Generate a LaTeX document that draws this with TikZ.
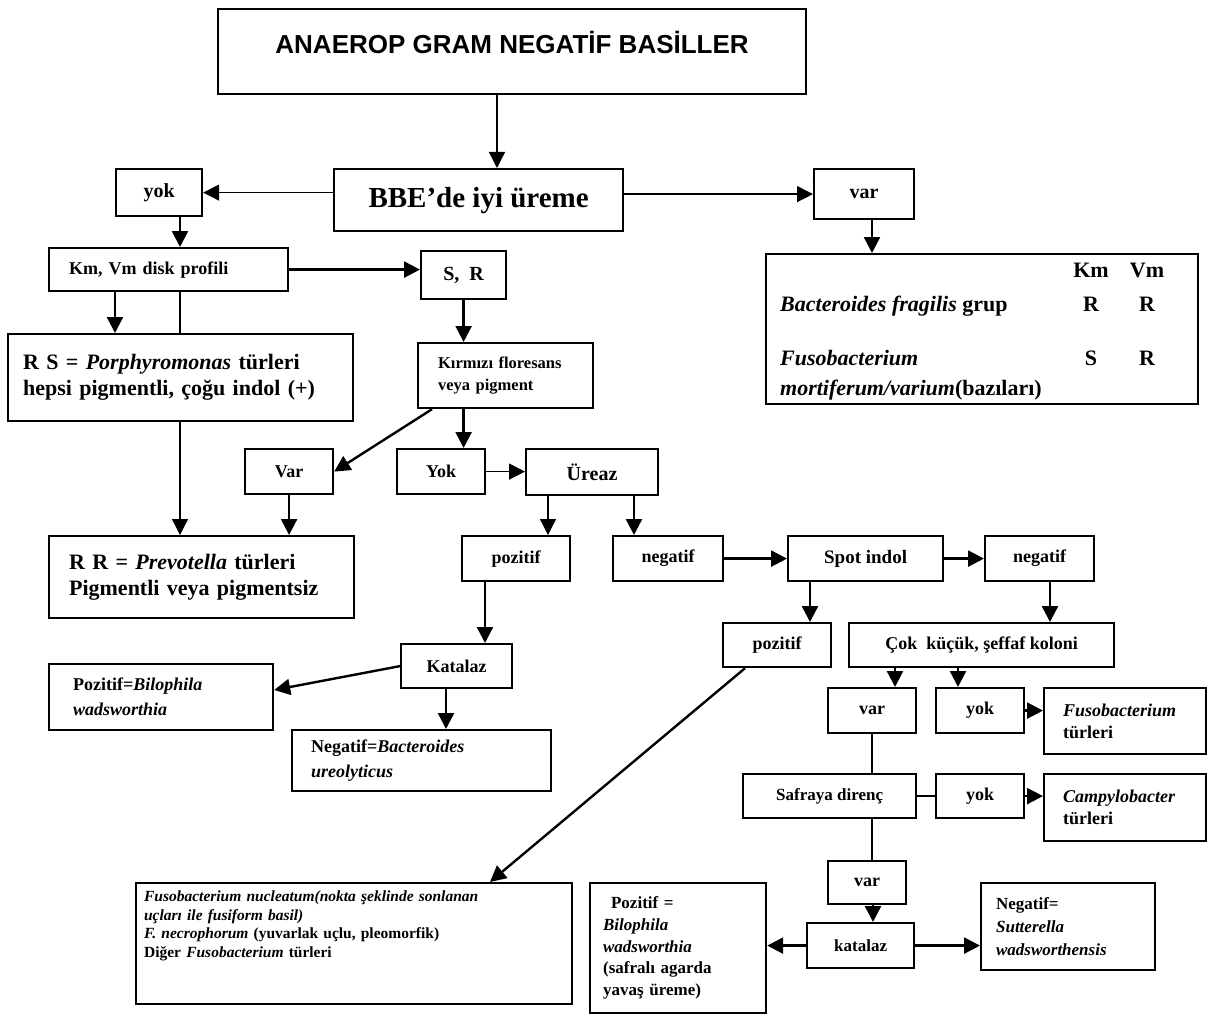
\documentclass[tikz,border=0pt]{standalone}
\usepackage{fontspec}
\setmainfont{Liberation Serif}
\newfontfamily\titlefont{Liberation Sans}
\usetikzlibrary{positioning, arrows.meta}

\begin{document}
\begin{tikzpicture}[
    x=1pt, y=-1pt,
    box/.style={draw, line width=2.2pt, fill=white, anchor=north west, inner sep=2pt, font=\bfseries},
    lbox/.style={box, align=left},
    txt/.style={inner sep=0pt, anchor=base west},
    fs/.style 2 args={font=\fontsize{#1}{#2}\selectfont\bfseries},
    arrow/.style={line width=2.4pt, -{Triangle[length=16pt, width=16pt]}},
    thinarrow/.style={line width=1.3pt, -{Triangle[length=16pt, width=16pt]}},
    link/.style={line width=1.8pt},
]

\fill[white] (0,0) rectangle (1211,1014);
\useasboundingbox (0,0) rectangle (1211,1014);

% Top
\node[box, minimum width=588pt, minimum height=85pt, text height=19pt, text depth=15pt,
      font=\titlefont\bfseries\fontsize{26}{30}\selectfont] (title) at (217,8) {ANAEROP GRAM NEGATİF BASİLLER};
\node[box, fs={29}{34}, minimum width=289pt, minimum height=62pt] (bbe) at (333,168) {BBE'de iyi üreme};
\node[box, fs={20}{24}, minimum width=86pt, minimum height=47pt] (yok1) at (115,168) {yok};
\node[box, fs={20}{24}, minimum width=100pt, minimum height=50pt] (var1) at (813,168) {var};

% Right box (Km, Vm)
\node[box, minimum width=432pt, minimum height=150pt] (bigbox) at (765,253) {};
\node[txt, fs={22}{26}, anchor=base] (kmhead) at (1091,277) {Km};
\node[txt, fs={22}{26}, anchor=base] (vmhead) at (1147,277) {Vm};
\node[txt, fs={22}{26}] (bfrag) at (780,311) {\textit{Bacteroides fragilis} grup};
\node[txt, fs={22}{26}, anchor=base] (bfragkm) at (1091,311) {R};
\node[txt, fs={22}{26}, anchor=base] (bfragvm) at (1147,311) {R};
\node[txt, fs={22}{26}] (fmort) at (780,365) {\textit{Fusobacterium}};
\node[txt, fs={22}{26}, anchor=base] (fmortkm) at (1091,365) {S};
\node[txt, fs={22}{26}, anchor=base] (fmortvm) at (1147,365) {R};
\node[txt, fs={22}{26}] (fmortb) at (780,395) {\textit{mortiferum/varium}(bazıları)};

% Left branch
\node[lbox, fs={18}{22}, minimum width=239pt, minimum height=43pt, inner xsep=20pt, text width=199pt] (kmbox) at (48,247) {Km, Vm disk profili};
\node[box, fs={20}{24}, minimum width=85pt, minimum height=48pt] (srbox) at (420,250) {S,\ \ R};
\node[lbox, fs={22}{26}, minimum width=345pt, minimum height=87pt, inner xsep=15pt, text width=315pt] (rsbox) at (7,333) {R S = \textit{Porphyromonas} türleri\\ hepsi pigmentli, çoğu indol (+)};
\node[lbox, fs={16.5}{22}, minimum width=175pt, minimum height=65pt, inner xsep=20pt, text width=135pt] (kirmizi) at (417,342) {Kırmızı floresans\\ veya pigment};
\node[box, fs={18}{22}, minimum width=88pt, minimum height=45pt] (var2) at (244,448) {Var};
\node[box, fs={18}{22}, minimum width=88pt, minimum height=45pt] (yok2) at (396,448) {Yok};
\node[box, fs={20}{24}, minimum width=132pt, minimum height=46pt] (ureaz) at (525,448) {Üreaz};
\node[lbox, fs={22}{26}, minimum width=305pt, minimum height=82pt, inner xsep=20pt, text width=265pt] (rrbox) at (48,535) {R R = \textit{Prevotella} türleri\\ Pigmentli veya pigmentsiz};

% Middle
\node[box, fs={18}{22}, minimum width=108pt, minimum height=45pt] (poz1) at (461,535) {pozitif};
\node[box, fs={18}{22}, minimum width=110pt, minimum height=45pt] (neg1) at (612,535) {negatif};
\node[box, fs={19}{23}, minimum width=155pt, minimum height=45pt] (spot) at (787,535) {Spot indol};
\node[box, fs={18}{22}, minimum width=109pt, minimum height=45pt] (neg2) at (984,535) {negatif};
\node[box, fs={18}{22}, minimum width=108pt, minimum height=44pt] (poz2) at (722,622) {pozitif};
\node[box, fs={18}{22}, minimum width=265pt, minimum height=44pt] (cok) at (848,622) {Çok\ \ küçük, şeffaf koloni};
\node[box, fs={18}{22}, minimum width=111pt, minimum height=44pt] (kat1) at (400,643) {Katalaz};
\node[lbox, fs={18}{25}, minimum width=224pt, minimum height=66pt, inner xsep=24pt, text width=176pt] (bilo1) at (48,663) {Pozitif=\textit{Bilophila}\\ \textit{wadsworthia}};
\node[lbox, fs={18}{25}, minimum width=259pt, minimum height=61pt, inner xsep=19pt, text width=221pt] (negbact) at (291,729) {Negatif=\textit{Bacteroides}\\ \textit{ureolyticus}};

% Lower right
\node[box, fs={18}{22}, minimum width=88pt, minimum height=45pt] (var3) at (827,687) {var};
\node[box, fs={18}{22}, minimum width=88pt, minimum height=45pt] (yok3) at (935,687) {yok};
\node[lbox, fs={18}{22}, minimum width=162pt, minimum height=66pt, inner xsep=19pt, text width=124pt] (fusot) at (1043,687) {\textit{Fusobacterium}\\ türleri};
\node[box, fs={17}{21}, minimum width=173pt, minimum height=44pt] (safra) at (742,773) {Safraya direnç};
\node[box, fs={18}{22}, minimum width=88pt, minimum height=44pt] (yok4) at (935,773) {yok};
\node[lbox, fs={18}{22}, minimum width=162pt, minimum height=67pt, inner xsep=19pt, text width=124pt] (campy) at (1043,773) {\textit{Campylobacter}\\ türleri};
\node[box, fs={18}{22}, minimum width=78pt, minimum height=43pt] (var4) at (827,860) {var};
\node[box, fs={17}{21}, minimum width=107pt, minimum height=45pt] (kat2) at (806,922) {katalaz};
\node[lbox, fs={17}{21.7}, minimum width=176pt, minimum height=130pt, inner xsep=13pt, text width=150pt] (bilo2) at (589,882) {\hspace*{8pt}Pozitif =\\ \textit{Bilophila}\\ \textit{wadsworthia}\\ (safralı agarda\\ yavaş üreme)};
\node[lbox, fs={17}{23}, minimum width=174pt, minimum height=87pt, inner xsep=15pt, text width=144pt] (sutt) at (980,882) {Negatif=\\ \textit{Sutterella}\\ \textit{wadsworthensis}};
\node[lbox, fs={15.5}{18.5}, minimum width=436pt, minimum height=121pt, inner xsep=8pt, text width=420pt] (fusonuc) at (135,882) {\textit{Fusobacterium nucleatum(nokta şeklinde sonlanan}\\ \textit{uçları ile fusiform basil)}\\ \textit{F. necrophorum} (yuvarlak uçlu, pleomorfik)\\ Diğer \textit{Fusobacterium} türleri\\[20pt]\mbox{}};

% Connectors
\draw[thinarrow] (title.south -| 497,0) -- (bbe.north -| 497,0);
\draw[thinarrow] (bbe.west |- yok1.east) -- (yok1.east);
\draw[thinarrow] (bbe.east |- var1.west) -- (var1.west);
\draw[arrow] (yok1.south -| 180,0) -- (kmbox.north -| 180,0);
\draw[arrow] (var1.south -| 872,0) -- (bigbox.north -| 872,0);
\draw[arrow] (kmbox.east) -- (srbox.west |- kmbox.east);
\draw[arrow] (kmbox.south -| 115,0) -- (rsbox.north -| 115,0);
\draw[link] (kmbox.south -| 180,0) -- (rsbox.north -| 180,0);
\draw[thinarrow] (rsbox.south -| 180,0) -- (rrbox.north -| 180,0);
\draw[arrow] (srbox.south) -- (kirmizi.north -| srbox.south);
\draw[arrow] (kirmizi.south -| srbox.south) -- (yok2.north -| srbox.south);
\draw[arrow] (kirmizi.south -| 432,0) -- (var2.east);
\draw[arrow] (var2.south) -- (rrbox.north -| var2.south);
\draw[thinarrow] (yok2.east) -- (ureaz.west |- yok2.east);
\draw[thinarrow] (ureaz.south -| 548,0) -- (poz1.north -| 548,0);
\draw[arrow] (ureaz.south -| 634,0) -- (neg1.north -| 634,0);
\draw[arrow] (neg1.east) -- (spot.west |- neg1.east);
\draw[arrow] (spot.east) -- (neg2.west |- spot.east);
\draw[arrow] (spot.south -| 810,0) -- (poz2.north -| 810,0);
\draw[arrow] (neg2.south -| 1050,0) -- (cok.north -| 1050,0);
\draw[arrow] (poz1.south -| 485,0) -- (kat1.north -| 485,0);
\draw[arrow] (kat1.west) -- (bilo1.east |- 0,690);
\draw[arrow] (kat1.south -| 446,0) -- (negbact.north -| 446,0);
\draw[arrow] (cok.south -| 895,0) -- (var3.north -| 895,0);
\draw[arrow] (cok.south -| 958,0) -- (yok3.north -| 958,0);
\draw[arrow] (yok3.east) -- (fusot.west |- yok3.east);
\draw[link] (var3.south -| 872,0) -- (safra.north -| 872,0);
\draw[link] (safra.east |- yok4.west) -- (yok4.west);
\draw[arrow] (yok4.east) -- (campy.west |- yok4.east);
\draw[link] (safra.south -| 872,0) -- (var4.north -| 872,0);
\draw[arrow] (var4.south -| 873,0) -- (kat2.north -| 873,0);
\draw[arrow] (kat2.west) -- (bilo2.east |- kat2.west);
\draw[arrow] (kat2.east) -- (sutt.west |- kat2.east);
\draw[arrow] (poz2.south -| 745,0) -- (fusonuc.north -| 490,0);

\end{tikzpicture}
\end{document}
